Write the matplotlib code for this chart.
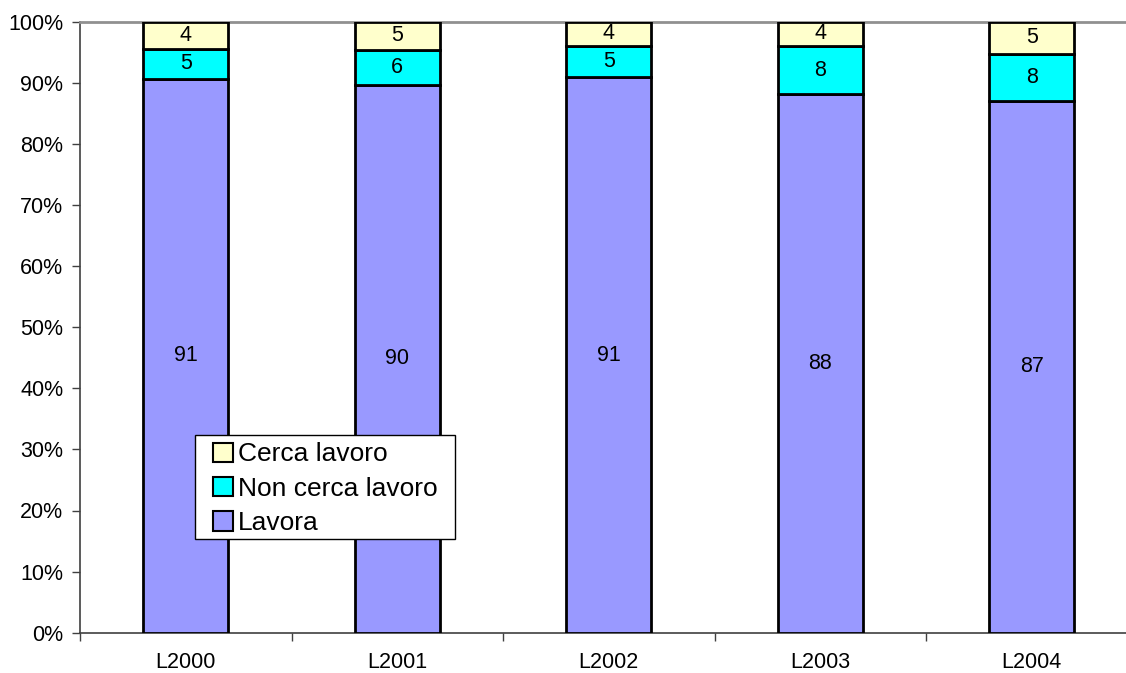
import matplotlib
matplotlib.use("Agg")
import matplotlib.pyplot as plt
from matplotlib.patches import Patch, Rectangle

plt.rcParams['font.family'] = ['Liberation Sans', 'DejaVu Sans']

categories = ["L2000", "L2001", "L2002", "L2003", "L2004"]
lavora = [90.6, 89.6, 90.9, 88.1, 87.1]
non_cerca = [5.0, 5.8, 5.2, 7.9, 7.6]
cerca = [4.4, 4.6, 3.9, 4.0, 5.3]
y_ticks = [0, 10, 20, 30, 40, 50, 60, 70, 80, 90, 100]

series = [
    ("Lavora", lavora, "#9999ff"),
    ("Non cerca lavoro", non_cerca, "#00ffff"),
    ("Cerca lavoro", cerca, "#ffffcc"),
]

W, H = 1126, 673
fig = plt.figure(figsize=(W / 100, H / 100), dpi=100)
left, right = 80 / W, 1137.5 / W
bottom, top = 1 - 632.7 / H, 1 - 21.7 / H
ax = fig.add_axes([left, bottom, right - left, top - bottom])

x = list(range(len(categories)))
base = [0.0] * len(categories)
for name, vals, color in series:
    ax.bar(x, vals, bottom=base, width=0.40, color=color, edgecolor="black",
           linewidth=2, label=name, zorder=3)
    for xi, b, v in zip(x, base, vals):
        ax.text(xi, b + v / 2, f"{v:.0f}", ha="center", va="center",
                fontsize=15.5, color="black", zorder=4)
    base = [b + v for b, v in zip(base, vals)]

ax.set_xlim(-0.5, len(categories) - 0.5)
ax.set_ylim(0, 100)
ax.set_yticks(y_ticks)
ax.set_yticklabels([f"{t}%" for t in y_ticks])
ax.set_xticks(x)
ax.set_xticklabels(categories)
ax.set_xticks([i - 0.5 for i in range(len(categories) + 1)], minor=True)
ax.tick_params(axis="x", which="major", length=0, pad=14, labelsize=15.5)
ax.tick_params(axis="x", which="minor", length=6, width=1, color="#404040")
ax.tick_params(axis="y", length=6, width=1, color="#404040", labelsize=15.5, pad=6)

for s in ("left", "bottom"):
    ax.spines[s].set_color("#404040")
    ax.spines[s].set_linewidth(1.2)
for s in ("top", "right"):
    ax.spines[s].set_color("#909090")
    ax.spines[s].set_linewidth(2)

# Legend box drawn in pixel coordinates of the figure
to_fig = lambda px, py: (px / W, 1 - py / H)
bx0, by0 = to_fig(195, 539)
bx1, by1 = to_fig(455, 435)
fig.patches.append(Rectangle((bx0, by0), bx1 - bx0, by1 - by0,
                             transform=fig.transFigure, facecolor="white",
                             edgecolor="black", linewidth=1, zorder=5))

handles = [Patch(facecolor=c, edgecolor="black", linewidth=1.5, label=n)
           for n, _, c in reversed(series)]
ax_x, ax_y = to_fig(209, 539)
leg = fig.legend(handles=handles, loc="lower left",
                 bbox_to_anchor=(ax_x, ax_y), bbox_transform=fig.transFigure,
                 fontsize=19, frameon=False, handlelength=0.75,
                 handleheight=0.75, handletextpad=0.2, labelspacing=0.39,
                 borderpad=0.15, borderaxespad=0)
leg.set_zorder(6)

fig.savefig("out.png", dpi=100)
